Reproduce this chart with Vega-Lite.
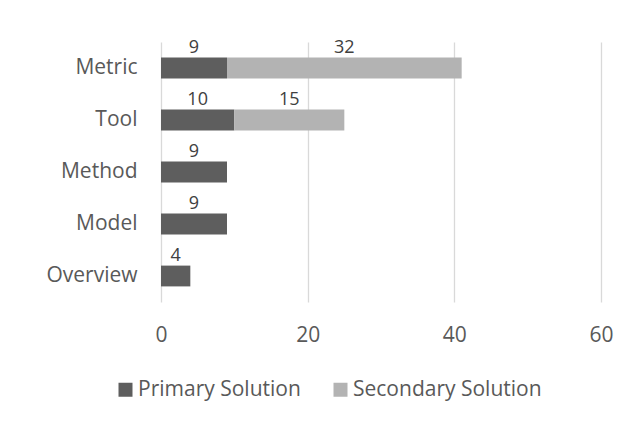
{
  "$schema": "https://vega.github.io/schema/vega-lite/v6.json",
  "autosize": {"type": "none"},
  "width": 440,
  "height": 260,
  "padding": {"left": 161, "top": 42, "right": 35, "bottom": 119},
  "background": "white",
  "config": {"view": {"stroke": null}},
  "data": {
    "values": [
      {"category": "Metric", "series": "Primary Solution", "value": 9},
      {"category": "Metric", "series": "Secondary Solution", "value": 32},
      {"category": "Tool", "series": "Primary Solution", "value": 10},
      {"category": "Tool", "series": "Secondary Solution", "value": 15},
      {"category": "Method", "series": "Primary Solution", "value": 9},
      {"category": "Model", "series": "Primary Solution", "value": 9},
      {"category": "Overview", "series": "Primary Solution", "value": 4}
    ]
  },
  "encoding": {
    "y": {
      "field": "category",
      "type": "nominal",
      "sort": ["Metric", "Tool", "Method", "Model", "Overview"],
      "scale": {"paddingInner": 0.6, "paddingOuter": 0.3},
      "axis": {
        "title": null,
        "domain": false,
        "ticks": false,
        "tickSize": 0,
        "grid": false,
        "labelPadding": 24,
        "labelFont": "Open Sans",
        "labelFontSize": 21,
        "labelColor": "#595959"
      }
    }
  },
  "layer": [
    {
      "mark": {"type": "bar", "stroke": null},
      "encoding": {
        "x": {
          "field": "value",
          "type": "quantitative",
          "stack": "zero",
          "scale": {"domain": [0, 60], "nice": false},
          "axis": {
            "title": null,
            "values": [0, 20, 40, 60],
            "domain": false,
            "ticks": false,
            "tickSize": 0,
            "grid": true,
            "gridColor": "#d9d9d9",
            "gridWidth": 1.3,
            "labelFlush": false,
            "labelPadding": 39,
            "labelBaseline": "alphabetic",
            "labelFont": "Open Sans",
            "labelFontSize": 21,
            "labelColor": "#595959"
          }
        },
        "color": {
          "field": "series",
          "type": "nominal",
          "scale": {"domain": ["Primary Solution", "Secondary Solution"], "range": ["#5e5e5e", "#b3b3b3"]},
          "legend": {
            "title": null,
            "orient": "none",
            "direction": "horizontal",
            "legendX": -46,
            "legendY": 337,
            "padding": 0,
            "symbolType": "square",
            "symbolSize": 196,
            "symbolStrokeWidth": 0,
            "labelOffset": 2,
            "columnPadding": 29,
            "labelLimit": 400,
            "labelFont": "Open Sans",
            "labelFontSize": 21,
            "labelColor": "#595959"
          }
        },
        "order": {"field": "series", "sort": "ascending"}
      }
    },
    {
      "mark": {"type": "text", "font": "Open Sans", "fontSize": 18, "color": "#404040", "baseline": "alphabetic", "dy": -15},
      "encoding": {
        "x": {"field": "value", "type": "quantitative", "stack": "zero", "bandPosition": 0.5},
        "detail": {"field": "series"},
        "order": {"field": "series", "sort": "ascending"},
        "text": {"field": "value", "type": "quantitative"}
      }
    }
  ]
}
